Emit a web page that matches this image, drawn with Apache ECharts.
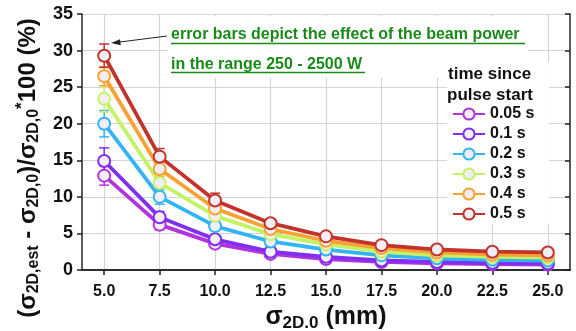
<!DOCTYPE html>
<html>
<head>
<meta charset="utf-8">
<script src="https://cdn.jsdelivr.net/npm/echarts@6/dist/echarts.min.js"></script>
<style>
  html, body { margin: 0; padding: 0; background: #fff; }
  #chart { width: 576px; height: 331px; }
</style>
</head>
<body>
<div id="chart"></div>
<script>
const xVals = [5.0, 7.5, 10.0, 12.5, 15.0, 17.5, 20.0, 22.5, 25.0]
const times = ['0.05 s', '0.1 s', '0.2 s', '0.3 s', '0.4 s', '0.5 s']
const colors = ['#b233dc', '#7f2fef', '#33b5f5', '#c4f266', '#f9a233', '#c2332b']

// mean error (%) per pulse time
const v005 = [12.9, 6.2, 3.6, 2.2, 1.5, 1.1, 0.9, 0.8, 0.75]
const v01 = [14.9, 7.2, 4.2, 2.5, 1.8, 1.3, 1.1, 0.95, 0.9]
const v02 = [20.0, 10.0, 6.0, 3.9, 2.8, 2.0, 1.6, 1.4, 1.3]
const v03 = [23.4, 11.9, 7.4, 4.9, 3.5, 2.5, 2.0, 1.8, 1.7]
const v04 = [26.5, 13.8, 8.4, 5.6, 4.0, 3.0, 2.4, 2.1, 2.0]
const v05 = [29.3, 15.5, 9.5, 6.4, 4.6, 3.4, 2.8, 2.5, 2.4]

// half-length of the error bars (beam power 250 - 2500 W)
const e005 = [1.3, 0.7, 0.4, 0.3, 0.2, 0.15, 0.1, 0.1, 0.1]
const e01 = [1.8, 0.8, 0.5, 0.3, 0.2, 0.15, 0.1, 0.1, 0.1]
const e02 = [1.8, 1.0, 0.6, 0.4, 0.3, 0.2, 0.15, 0.1, 0.1]
const e03 = [1.8, 1.1, 0.6, 0.4, 0.3, 0.2, 0.15, 0.1, 0.1]
const e04 = [1.3, 1.0, 0.7, 0.5, 0.3, 0.2, 0.2, 0.15, 0.1]
const e05 = [1.6, 1.1, 1.0, 0.6, 0.4, 0.3, 0.2, 0.2, 0.2]

const values = [v005, v01, v02, v03, v04, v05]
const errors = [e005, e01, e02, e03, e04, e05]

const font = "'Liberation Sans', Arial, sans-serif"
const green = '#1a8a1a'
const ink = '#111'

let chart = echarts.init(document.getElementById('chart'), null, { renderer: 'canvas' })

let series = []
values.forEach(function (vals, i) {
  series.push({
    name: times[i] + '_err',
    type: 'custom',
    z: 1,
    silent: true,
    data: xVals.map(function (x, k) { return [x, vals[k] - errors[i][k], vals[k] + errors[i][k]] }),
    renderItem: function (params, api) {
      let lo = api.coord([api.value(0), api.value(1)])
      let hi = api.coord([api.value(0), api.value(2)])
      let w = 5
      let st = { stroke: colors[i], lineWidth: 1.5 }
      return {
        type: 'group',
        children: [
          { type: 'line', shape: { x1: lo[0], y1: lo[1], x2: hi[0], y2: hi[1] }, style: st },
          { type: 'line', shape: { x1: lo[0] - w, y1: lo[1], x2: lo[0] + w, y2: lo[1] }, style: st },
          { type: 'line', shape: { x1: hi[0] - w, y1: hi[1], x2: hi[0] + w, y2: hi[1] }, style: st }
        ]
      }
    }
  })
})
values.forEach(function (vals, i) {
  series.push({
    name: times[i],
    type: 'line',
    z: 2 + i,
    data: xVals.map(function (x, k) { return [x, vals[k]] }),
    symbol: 'circle',
    symbolSize: 12,
    lineStyle: { color: colors[i], width: 3.8 },
    itemStyle: { color: '#f3eef4', borderColor: colors[i], borderWidth: 2 }
  })
})

let option = {
  animation: false,
  color: colors,
  grid: { left: 82, right: 6, top: 14, bottom: 61, containLabel: false, outerBoundsMode: 'none' },
  legend: {
    data: times,
    orient: 'vertical',
    left: 452,
    top: 106,
    padding: 0,
    itemGap: 4,
    itemWidth: 32,
    itemHeight: 14,
    textStyle: { fontFamily: font, fontWeight: 'bold', fontSize: 16, color: ink }
  },
  graphic: [
    { type: 'rect', z: 1, shape: { x: 168, y: 16, width: 360, height: 62 }, style: { fill: '#fff' } },
    { type: 'rect', z: 1, shape: { x: 447, y: 62, width: 102, height: 162 }, style: { fill: '#fff' } },
    { type: 'text', z: 5, x: 171, y: 35, style: { text: 'error bars depict the effect of the beam power', fill: green, font: 'bold 16px ' + font, verticalAlign: 'middle' } },
    { type: 'text', z: 5, x: 171, y: 64.5, style: { text: 'in the range 250 - 2500 W', fill: green, font: 'bold 16px ' + font, verticalAlign: 'middle' } },
    { type: 'line', z: 5, shape: { x1: 171, y1: 43.5, x2: 525, y2: 43.5 }, style: { stroke: green, lineWidth: 1.5 } },
    { type: 'line', z: 5, shape: { x1: 171, y1: 72.5, x2: 365, y2: 72.5 }, style: { stroke: green, lineWidth: 1.5 } },
    { type: 'line', z: 5, shape: { x1: 167, y1: 36, x2: 116, y2: 42.5 }, style: { stroke: '#222', lineWidth: 1 } },
    { type: 'polygon', z: 5, shape: { points: [[111, 43], [120, 39.3], [120.8, 45.3]] }, style: { fill: '#222' } },
    { type: 'text', z: 5, x: 448, y: 74, style: { text: 'time since', fill: ink, font: 'bold 17px ' + font, verticalAlign: 'middle' } },
    { type: 'text', z: 5, x: 447, y: 95, style: { text: 'pulse start', fill: ink, font: 'bold 17px ' + font, verticalAlign: 'middle' } },
    {
      type: 'text', z: 5, x: 28, y: 168, rotation: Math.PI / 2,
      style: {
        text: '{s|(σ}{sub|2D,est}{s| - σ}{sub|2D,0}{s|)/σ}{sub|2D,0}{sup|*}{s|100 (%)}',
        align: 'center',
        verticalAlign: 'middle',
        rich: {
          s: { fontFamily: font, fontWeight: 'bold', fontSize: 24, fill: ink, lineHeight: 28 },
          sub: { fontFamily: font, fontWeight: 'bold', fontSize: 16, fill: ink, verticalAlign: 'bottom', padding: [11, 0, 0, 0] },
          sup: { fontFamily: font, fontWeight: 'bold', fontSize: 17, fill: ink, verticalAlign: 'top', padding: [0, 0, 9, 0] }
        }
      }
    }
  ],
  xAxis: [{
    type: 'value',
    min: 4,
    max: 26,
    name: '{s|σ}{sub|2D.0}{s| (mm)}',
    nameLocation: 'middle',
    nameGap: 32,
    nameTextStyle: {
      rich: {
        s: { fontFamily: font, fontWeight: 'bold', fontSize: 25, color: ink, lineHeight: 28 },
        sub: { fontFamily: font, fontWeight: 'bold', fontSize: 17, color: ink, verticalAlign: 'bottom', padding: [12, 0, 0, 0] }
      }
    },
    axisLine: { lineStyle: { color: '#222', width: 1.5 } },
    axisTick: { customValues: xVals, length: 5, lineStyle: { color: '#222', width: 1.5 } },
    axisLabel: {
      customValues: xVals,
      margin: 14,
      fontFamily: font, fontWeight: 'bold', fontSize: 16, color: ink,
      formatter: function (v) { return v.toFixed(1) }
    },
    splitLine: { show: true, lineStyle: { color: '#d4d4d4', width: 1.2 } }
  }, {
    type: 'value',
    position: 'top',
    min: 4,
    max: 26,
    axisLine: { lineStyle: { color: '#222', width: 1.5 } },
    axisTick: { customValues: xVals, inside: true, length: 5, lineStyle: { color: '#222', width: 1.5 } },
    axisLabel: { show: false },
    splitLine: { show: false }
  }],
  yAxis: [{
    type: 'value',
    min: 0,
    max: 35,
    interval: 5,
    axisLine: { show: true, lineStyle: { color: '#222', width: 1.5 } },
    axisTick: { show: true, length: 5, lineStyle: { color: '#222', width: 1.5 } },
    axisLabel: { margin: 9, fontFamily: font, fontWeight: 'bold', fontSize: 18, color: ink },
    splitLine: { show: true, lineStyle: { color: '#d4d4d4', width: 1.2 } }
  }, {
    type: 'value',
    position: 'right',
    min: 0,
    max: 35,
    interval: 5,
    axisLine: { show: true, lineStyle: { color: '#222', width: 1.5 } },
    axisTick: { show: true, inside: true, length: 5, lineStyle: { color: '#222', width: 1.5 } },
    axisLabel: { show: false },
    splitLine: { show: false }
  }],
  series: series
}

chart.setOption(option)
window.addEventListener('resize', chart.resize)
</script>
</body>
</html>
